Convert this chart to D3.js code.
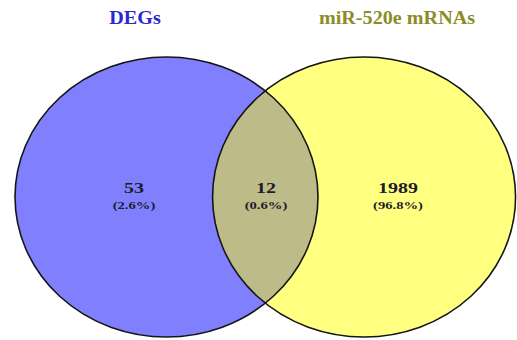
<!DOCTYPE html>
<html>
<head>
<meta charset="utf-8">
<script src="https://cdn.jsdelivr.net/npm/d3@7"></script>
<style>
  html, body { margin: 0; padding: 0; background: #fff; }
  svg { display: block; }
</style>
</head>
<body>
<div id="chart"></div>
<script>
// ---- Data ----
const setNames = ["DEGs", "miR-520e mRNAs"];
const setColors = ["#8080ff", "#ffff80"];
const titleColors = ["#2a2acc", "#8c8c28"];
const regionLabels = ["DEGs only", "Both", "miR-520e mRNAs only"];
const regionCounts = [53, 12, 1989];
const regionPercents = ["(2.6%)", "(0.6%)", "(96.8%)"];

// ---- Layout ----
const W = 517, H = 340;
const svg = d3.select("#chart").append("svg").attr("width", W).attr("height", H);

// domain units: each set is an ellipse of unit radius
const x = d3.scaleLinear().domain([-1, 1]).range([15, 318]);
const y = d3.scaleLinear().domain([-1, 1]).range([57, 337]);
const centers = [0, 1.304];
const rxU = 1;

const ellipses = centers.map((c, i) => ({
  cx: x(c), cy: y(0),
  rx: x(c + rxU) - x(c), ry: y(1) - y(0),
  fill: setColors[i]
}));

const defs = svg.append("defs");
defs.append("clipPath").attr("id", "clipA")
  .append("ellipse")
  .attr("cx", ellipses[0].cx).attr("cy", ellipses[0].cy)
  .attr("rx", ellipses[0].rx).attr("ry", ellipses[0].ry);

// fills
svg.selectAll("ellipse.set").data(ellipses).join("ellipse")
  .attr("class", "set")
  .attr("cx", d => d.cx).attr("cy", d => d.cy)
  .attr("rx", d => d.rx).attr("ry", d => d.ry)
  .attr("fill", d => d.fill);

// overlap
svg.append("ellipse")
  .attr("clip-path", "url(#clipA)")
  .attr("cx", ellipses[1].cx).attr("cy", ellipses[1].cy)
  .attr("rx", ellipses[1].rx).attr("ry", ellipses[1].ry)
  .attr("fill", "#bdbb88");

// outlines
svg.selectAll("ellipse.outline").data(ellipses).join("ellipse")
  .attr("class", "outline")
  .attr("cx", d => d.cx).attr("cy", d => d.cy)
  .attr("rx", d => d.rx).attr("ry", d => d.ry)
  .attr("fill", "none")
  .attr("stroke", "#151515")
  .attr("stroke-width", 1.6);

// titles
const titleX = [135, 397];
setNames.forEach((name, i) => {
  svg.append("g")
    .attr("transform", `translate(${titleX[i]},24) scale(1.12,1)`)
    .append("text")
    .attr("text-anchor", "middle")
    .attr("font-family", "Liberation Serif, Times New Roman, serif")
    .attr("font-weight", "bold")
    .attr("font-size", 18)
    .attr("fill", titleColors[i])
    .text(name);
});

// region labels
const labelX = [134, 266, 398];
regionCounts.forEach((cnt, i) => {
  const g = svg.append("g")
    .attr("transform", `translate(${labelX[i]},0) scale(1.33,1)`);
  g.append("text")
    .attr("y", 193)
    .attr("text-anchor", "middle")
    .attr("font-family", "Liberation Serif, Times New Roman, serif")
    .attr("font-weight", "bold")
    .attr("font-size", 15)
    .attr("fill", "#1c1c2c")
    .text(cnt);
  g.append("text")
    .attr("y", 209)
    .attr("text-anchor", "middle")
    .attr("font-family", "Liberation Serif, Times New Roman, serif")
    .attr("font-weight", "bold")
    .attr("font-size", 11)
    .attr("fill", "#1c1c2c")
    .text(regionPercents[i]);
});
</script>
</body>
</html>
